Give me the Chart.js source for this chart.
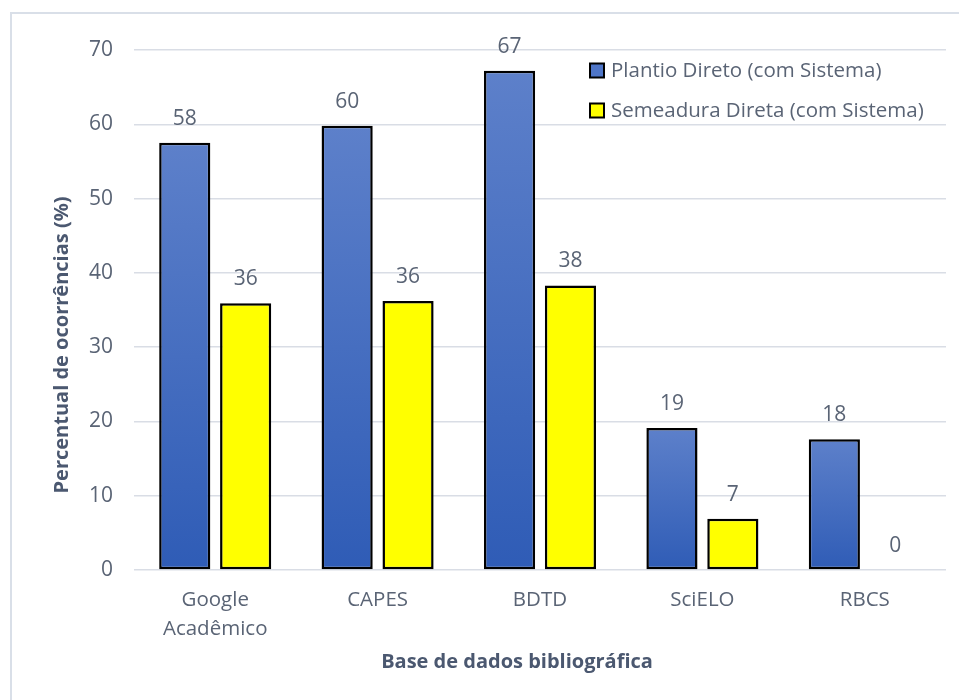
<!DOCTYPE html>
<html>
<head>
<meta charset="utf-8">
<script src="https://cdn.jsdelivr.net/npm/chart.js@4/dist/chart.umd.min.js"></script>
<style>
  html, body { margin: 0; padding: 0; background: #fff; }
  #wrap { position: relative; width: 959px; height: 700px; }
</style>
</head>
<body>
<div id="wrap"><canvas id="bars"></canvas></div>
<script>
var categories = [['Google', 'Acadêmico'], 'CAPES', 'BDTD', 'SciELO', 'RBCS'];
var plantioLabel = 'Plantio Direto (com Sistema)';
var semeaduraLabel = 'Semeadura Direta (com Sistema)';
var plantioValues = [57.5, 59.8, 67.2, 19.1, 17.6];
var semeaduraValues = [35.9, 36.2, 38.3, 6.9, 0];
var yTitle = 'Percentual de ocorrências (%)';
var xTitle = 'Base de dados bibliográfica';

var FONT = '"Open Sans", "Noto Sans", sans-serif';
var TEXT = '#5a6475';
var TITLE = '#4b5870';

// bars are lighter at the top, darker at the base
function blueFill(c) {
  var chart = c.chart, y = chart.scales.y;
  if (!chart.chartArea || !y || c.raw == null) return '#4a72c4';
  var top = y.getPixelForValue(c.raw), bot = y.getPixelForValue(0);
  if (bot - top < 1) return '#4a72c4';
  var g = chart.ctx.createLinearGradient(0, top, 0, bot);
  g.addColorStop(0, '#5d80ca');
  g.addColorStop(1, '#2f5cb6');
  return g;
}

var extras = {
  id: 'extras',
  beforeDraw: function(chart) {
    var ctx = chart.ctx;
    ctx.save();
    ctx.fillStyle = '#fff';
    ctx.fillRect(0, 0, chart.width, chart.height);
    ctx.strokeStyle = '#d9dfe8';
    ctx.lineWidth = 2;
    ctx.strokeRect(11, 13, chart.width + 20, chart.height + 20);
    ctx.restore();
  },
  afterDraw: function(chart) {
    var ctx = chart.ctx;
    ctx.save();
    // value labels
    ctx.font = '21px ' + FONT;
    ctx.fillStyle = TEXT;
    ctx.textAlign = 'center';
    ctx.textBaseline = 'alphabetic';
    chart.data.datasets.forEach(function(ds, i) {
      chart.getDatasetMeta(i).data.forEach(function(bar, j) {
        ctx.fillText(String(Math.round(ds.data[j])), bar.x, bar.y - 18);
      });
    });
    // legend
    var lx = 590, ly = [70.5, 110.5];
    ctx.textAlign = 'left';
    ctx.textBaseline = 'middle';
    ctx.font = '20.5px ' + FONT;
    var swatch = ['#4f76c8', '#ffff00'];
    chart.data.datasets.forEach(function(ds, i) {
      ctx.fillStyle = swatch[i];
      ctx.fillRect(lx, ly[i] - 7, 14, 14);
      ctx.strokeStyle = '#000';
      ctx.lineWidth = 2;
      ctx.strokeRect(lx, ly[i] - 7, 14, 14);
      ctx.fillStyle = TEXT;
      ctx.fillText(ds.label, lx + 21, ly[i] + 1);
    });
    // axis titles
    ctx.fillStyle = TITLE;
    ctx.font = 'bold 20px ' + FONT;
    ctx.textAlign = 'center';
    ctx.fillText(xTitle, 517, 662);
    ctx.translate(62, 345);
    ctx.rotate(-Math.PI / 2);
    ctx.fillText(yTitle, 0, 0);
    ctx.restore();
  }
};

new Chart(document.getElementById('bars'), {
  type: 'bar',
  data: {
    labels: categories,
    datasets: [{
      label: plantioLabel,
      data: plantioValues,
      backgroundColor: blueFill,
      borderColor: '#000',
      borderWidth: 2.5,
      borderSkipped: false
    }, {
      label: semeaduraLabel,
      data: semeaduraValues,
      backgroundColor: '#ffff00',
      borderColor: '#000',
      borderWidth: 2.5,
      borderSkipped: false
    }]
  },
  options: {
    responsive: true,
    maintainAspectRatio: false,
    animation: false,
    categoryPercentage: 0.75,
    barPercentage: 0.84,
    layout: { padding: { top: 50, right: 13, left: 0, bottom: 0 } },
    plugins: { legend: { display: false }, tooltip: { enabled: false } },
    scales: {
      x: {
        grid: { display: false, drawTicks: false },
        border: { display: false },
        ticks: { color: TEXT, font: { family: FONT, size: 20.5, lineHeight: 1.41 }, padding: 16, maxRotation: 0 },
        afterFit: function(s) { s.height = 130; }
      },
      y: {
        min: 0, max: 70,
        grid: { color: '#d9dde5', lineWidth: 1.5, drawTicks: false },
        border: { display: false },
        ticks: { stepSize: 10, color: TEXT, font: { family: FONT, size: 21 }, padding: 21 },
        afterFit: function(s) { s.width = 134; }
      }
    }
  },
  plugins: [extras]
});
</script>
</body>
</html>
